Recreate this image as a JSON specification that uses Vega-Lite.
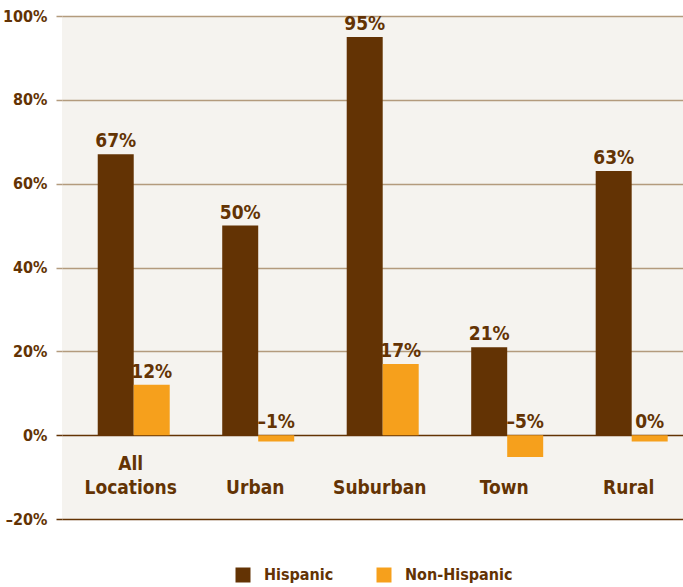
{
  "$schema": "https://vega.github.io/schema/vega-lite/v6.json",
  "width": 621,
  "height": 503,
  "autosize": "none",
  "padding": {"left": 62, "top": 16, "right": 0, "bottom": 68},
  "background": "white",
  "config": {
    "view": {"fill": "#F5F3EF", "stroke": null},
    "font": "DejaVu Sans Condensed, sans-serif"
  },
  "data": {
    "values": [
      {"loc": "All Locations", "group": "Hispanic", "value": 67, "label": "67%"},
      {"loc": "All Locations", "group": "Non-Hispanic", "value": 12, "label": "12%"},
      {"loc": "Urban", "group": "Hispanic", "value": 50, "label": "50%"},
      {"loc": "Urban", "group": "Non-Hispanic", "value": -1.5, "label": "–1%"},
      {"loc": "Suburban", "group": "Hispanic", "value": 95, "label": "95%"},
      {"loc": "Suburban", "group": "Non-Hispanic", "value": 17, "label": "17%"},
      {"loc": "Town", "group": "Hispanic", "value": 21, "label": "21%"},
      {"loc": "Town", "group": "Non-Hispanic", "value": -5.2, "label": "–5%"},
      {"loc": "Rural", "group": "Hispanic", "value": 63, "label": "63%"},
      {"loc": "Rural", "group": "Non-Hispanic", "value": -1.5, "label": "0%"}
    ]
  },
  "encoding": {
    "x": {
      "field": "loc",
      "type": "nominal",
      "sort": ["All Locations", "Urban", "Suburban", "Town", "Rural"],
      "scale": {"paddingInner": 0.4217, "paddingOuter": 0.205, "align": 0.7},
      "axis": {
        "title": null,
        "domain": false,
        "ticks": false,
        "tickSize": 0,
        "labelAngle": 0,
        "labelPadding": -46,
        "labelOffset": -3,
        "labelBaseline": "bottom",
        "labelFontSize": 19,
        "labelFontWeight": "bold",
        "labelColor": "#633304",
        "labelLineHeight": 24,
        "labelExpr": "datum.label == 'All Locations' ? ['All', 'Locations'] : ['', datum.label]"
      }
    },
    "xOffset": {"field": "group", "type": "nominal", "sort": ["Hispanic", "Non-Hispanic"], "scale": {"paddingInner": 0, "paddingOuter": 0}}
  },
  "layer": [
    {
      "mark": {"type": "bar"},
      "encoding": {
        "y": {
          "field": "value",
          "type": "quantitative",
          "scale": {"domain": [-20, 100], "nice": false},
          "axis": {
            "title": null,
            "values": [-20, 0, 20, 40, 60, 80, 100],
            "domain": false,
            "tickSize": 6,
            "labelPadding": 9,
            "labelFontSize": 16,
            "labelFontWeight": "bold",
            "labelColor": "#633304",
            "labelExpr": "datum.value < 0 ? '–' + abs(datum.value) + '%' : datum.value + '%'",
            "gridColor": {"condition": {"test": "datum.value <= 0", "value": "#633304"}, "value": "#B39B7D"},
            "tickColor": {"condition": {"test": "datum.value <= 0", "value": "#633304"}, "value": "#B39B7D"},
            "gridWidth": 1.5,
            "tickWidth": 1.5
          }
        },
        "color": {
          "field": "group",
          "type": "nominal",
          "scale": {"domain": ["Hispanic", "Non-Hispanic"], "range": ["#633304", "#F6A01C"]},
          "legend": {
            "title": null,
            "orient": "none",
            "direction": "horizontal",
            "legendX": 173,
            "legendY": 551,
            "padding": 0,
            "symbolType": "square",
            "symbolSize": 225,
            "symbolStrokeWidth": 0,
            "labelOffset": 13,
            "columnPadding": 42,
            "labelFontSize": 16,
            "labelFontWeight": "bold",
            "labelColor": "#633304"
          }
        }
      }
    },
    {
      "transform": [{"calculate": "max(datum.value, 0)", "as": "pos"}],
      "mark": {"type": "text", "baseline": "alphabetic", "dy": -7, "fontSize": 19, "fontWeight": "bold", "color": "#633304"},
      "encoding": {
        "y": {"field": "pos", "type": "quantitative"},
        "text": {"field": "label"}
      }
    }
  ]
}
